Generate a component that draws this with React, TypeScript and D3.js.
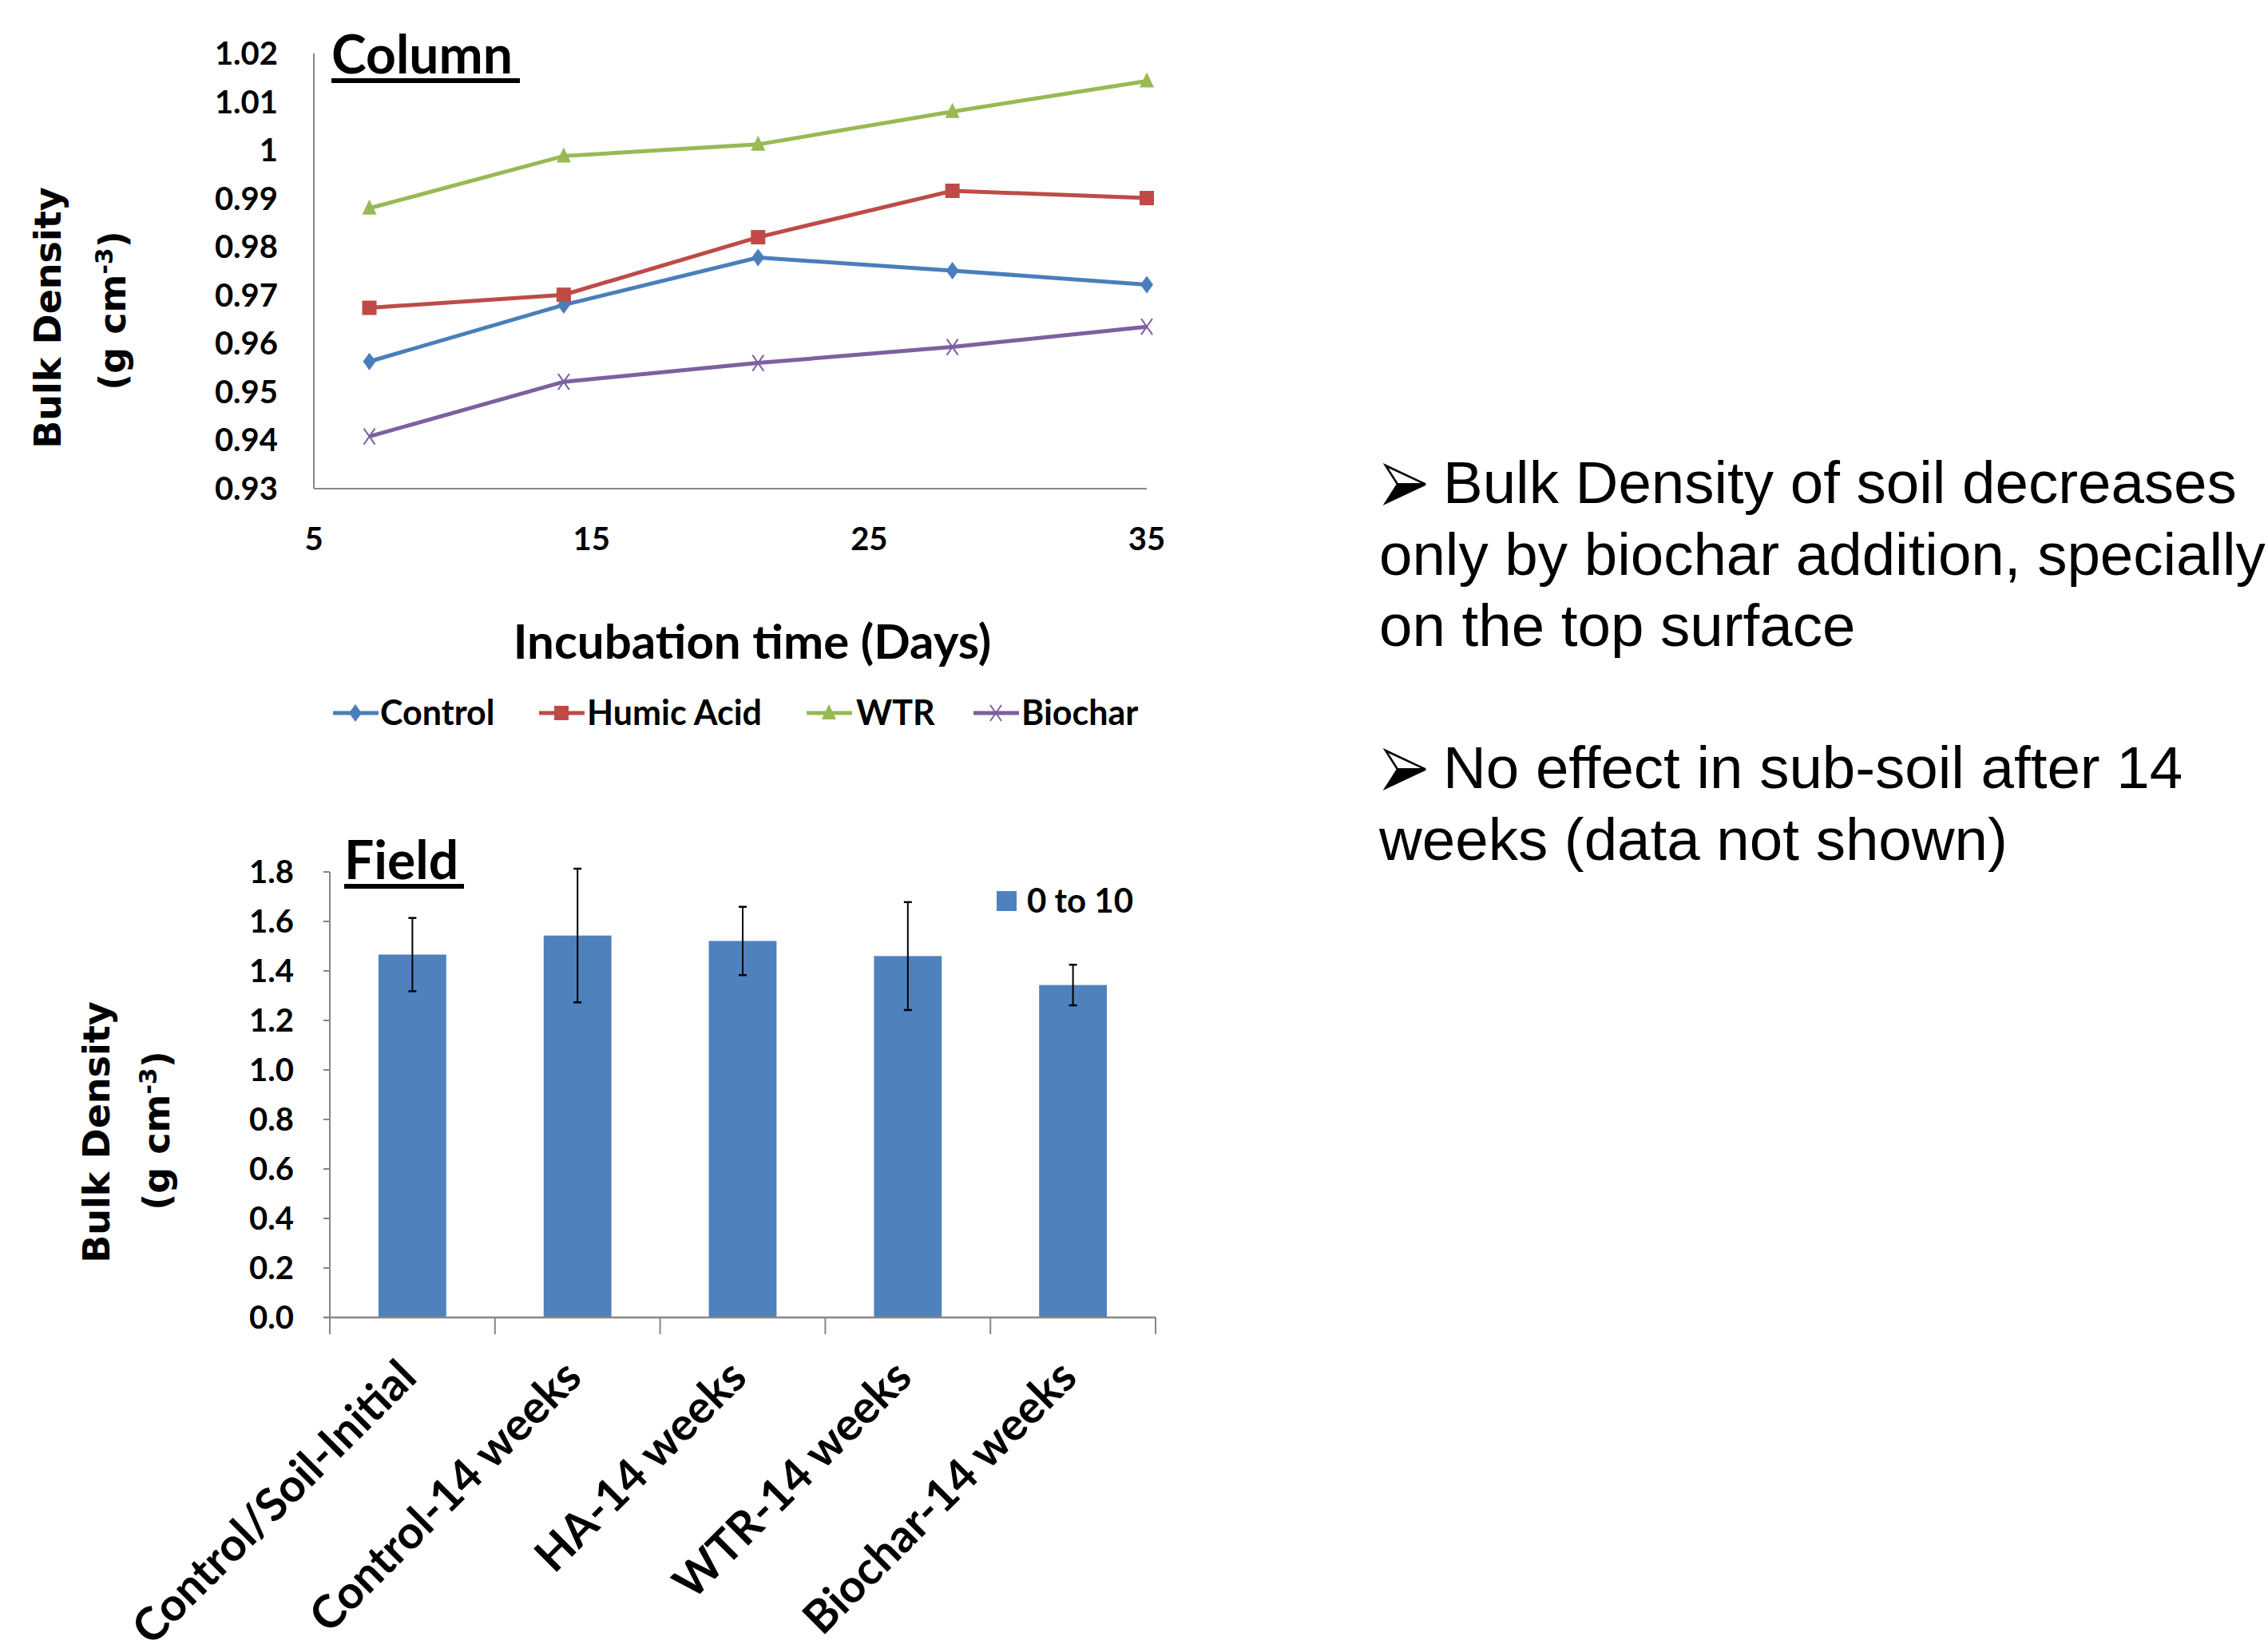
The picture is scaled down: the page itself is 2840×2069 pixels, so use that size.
import React from "react";
import * as d3 from "d3";

const days = [7, 14, 21, 28, 35];
const controlVals = [0.9563, 0.968, 0.9778, 0.9751, 0.9722];
const humicVals = [0.9674, 0.9701, 0.982, 0.9916, 0.9901];
const wtrVals = [0.988, 0.9988, 1.0012, 1.008, 1.0143];
const biocharVals = [0.9408, 0.9521, 0.956, 0.9593, 0.9635];
const topYTicks = [0.93, 0.94, 0.95, 0.96, 0.97, 0.98, 0.99, 1, 1.01, 1.02];
const topXTicks = [5, 15, 25, 35];

const fieldCats = ["Control/Soil-Initial", "Control-14 weeks", "HA-14 weeks", "WTR-14 weeks", "Biochar-14 weeks"];
const fieldVals = [1.466, 1.543, 1.521, 1.46, 1.343];
const fieldErr = [0.148, 0.27, 0.138, 0.218, 0.082];
const botYTicks = [0, 0.2, 0.4, 0.6, 0.8, 1.0, 1.2, 1.4, 1.6, 1.8];

const bulletLines1 = ["Bulk Density of soil decreases", "only by biochar addition, specially", "on the top surface"];
const bulletLines2 = ["No effect in sub-soil after 14", "weeks (data not shown)"];

const series = [
  { name: "Control", values: controlVals, color: "#4A7EBB", marker: "diamond" },
  { name: "Humic Acid", values: humicVals, color: "#BE4B48", marker: "square" },
  { name: "WTR", values: wtrVals, color: "#98B954", marker: "triangle" },
  { name: "Biochar", values: biocharVals, color: "#7D60A0", marker: "x" },
];

const LAB = "Lato, 'Open Sans', sans-serif";
const AX = "#868686";

function Marker({ type, x, y, color }: { type: string; x: number; y: number; color: string }) {
  if (type === "diamond") {
    return <path d={`M${x},${y - 11}L${x + 8},${y}L${x},${y + 11}L${x - 8},${y}Z`} fill={color} />;
  }
  if (type === "square") {
    return <rect x={x - 9} y={y - 9} width={18} height={18} fill={color} />;
  }
  if (type === "triangle") {
    return <path d={`M${x},${y - 11}L${x + 9},${y + 8}L${x - 9},${y + 8}Z`} fill={color} />;
  }
  return (
    <g stroke={color} strokeWidth={2}>
      <line x1={x - 7} y1={y - 10} x2={x + 7} y2={y + 10} />
      <line x1={x + 7} y1={y - 10} x2={x - 7} y2={y + 10} />
    </g>
  );
}

function Arrow({ x, y }: { x: number; y: number }) {
  // 3D arrowhead bullet (Wingdings-style), x,y = top-left
  const W = 50;
  const H = 47;
  return (
    <g>
      <path d={`M${x},${y}L${x + W},${y + H * 0.5}L${x + W * 0.3},${y + H * 0.5}Z`} fill="#fff" stroke="#000" strokeWidth={2.5} strokeLinejoin="miter" />
      <path d={`M${x + W * 0.3},${y + H * 0.5}L${x + W},${y + H * 0.5}L${x},${y + H}Z`} fill="#000" stroke="#000" strokeWidth={2.5} />
    </g>
  );
}

export default function App() {
  const xTop = d3.scaleLinear().domain([5, 35]).range([393, 1436]);
  const yTop = d3.scaleLinear().domain([0.93, 1.02]).range([612, 67]);
  const line = d3
    .line<number>()
    .x((_, i) => xTop(days[i]))
    .y((d) => yTop(d));

  const xBand = d3.scaleBand<string>().domain(fieldCats).range([413, 1447]).paddingInner(0).paddingOuter(0);
  const yBot = d3.scaleLinear().domain([0, 1.8]).range([1650, 1092]);
  const barW = xBand.bandwidth() * 0.41;

  const legendItems = [
    { x0: 417, tx: 476 },
    { x0: 675, tx: 735 },
    { x0: 1010, tx: 1072 },
    { x0: 1219, tx: 1279 },
  ];

  return (
    <svg width={2840} height={2069} style={{ display: "block", background: "#fff" }}>
      <style>{`body{margin:0}`}</style>
      <rect x={0} y={0} width={2840} height={2069} fill="#fff" />

      {/* ---------- Top chart: Column ---------- */}
      <line x1={393} y1={yTop(1.02)} x2={393} y2={612} stroke={AX} strokeWidth={2} />
      <line x1={393} y1={612} x2={1436} y2={612} stroke={AX} strokeWidth={2} />
      {topYTicks.map((t) => (
        <text key={t} x={348} y={yTop(t)} dy="0.35em" textAnchor="end" fontFamily={LAB} fontWeight={700} fontSize={40}>
          {d3.format("")(+t.toFixed(2))}
        </text>
      ))}
      {topXTicks.map((t) => (
        <text key={t} x={xTop(t)} y={675} dy="0.35em" textAnchor="middle" fontFamily={LAB} fontWeight={700} fontSize={40}>
          {t}
        </text>
      ))}
      {series.map((s) => (
        <g key={s.name}>
          <path d={line(s.values) || ""} fill="none" stroke={s.color} strokeWidth={5} />
          {s.values.map((v, i) => (
            <Marker key={i} type={s.marker} x={xTop(days[i])} y={yTop(v)} color={s.color} />
          ))}
        </g>
      ))}
      <text x={415} y={92} fontFamily={LAB} fontWeight={700} fontSize={66}>Column</text>
      <line x1={415} y1={101} x2={651} y2={101} stroke="#000" strokeWidth={6} />

      <text x={942} y={804} dy="0.35em" textAnchor="middle" fontFamily={LAB} fontWeight={700} fontSize={60}>
        Incubation time (Days)
      </text>

      <g transform="translate(60,398) rotate(-90)">
        <text x={0} y={0} dy="0.35em" textAnchor="middle" fontFamily="'DejaVu Sans', sans-serif" fontWeight={700} fontSize={46}>
          Bulk Density
        </text>
      </g>
      <g transform="translate(141,389) rotate(-90)">
        <text x={0} y={0} dy="0.35em" textAnchor="middle" fontFamily="'DejaVu Sans', sans-serif" fontWeight={700} fontSize={46}>
          (g cm<tspan dy="-16" fontSize={30}>-3</tspan><tspan dy="16">)</tspan>
        </text>
      </g>

      {series.map((s, i) => (
        <g key={s.name}>
          <line x1={legendItems[i].x0} y1={893} x2={legendItems[i].x0 + 57} y2={893} stroke={s.color} strokeWidth={5} />
          <Marker type={s.marker} x={legendItems[i].x0 + 28} y={893} color={s.color} />
          <text x={legendItems[i].tx} y={893} dy="0.35em" fontFamily={LAB} fontWeight={700} fontSize={43}>
            {s.name}
          </text>
        </g>
      ))}

      {/* ---------- Bottom chart: Field ---------- */}
      {fieldCats.map((c, i) => {
        const cx = (xBand(c) || 0) + xBand.bandwidth() / 2;
        return (
          <g key={c}>
            <rect x={cx - barW / 2} y={yBot(fieldVals[i])} width={barW} height={1650 - yBot(fieldVals[i])} fill="#4F81BD" />
            <line x1={cx} y1={yBot(fieldVals[i] + fieldErr[i])} x2={cx} y2={yBot(fieldVals[i] - fieldErr[i])} stroke="#000" strokeWidth={2} />
            <line x1={cx - 5} y1={yBot(fieldVals[i] + fieldErr[i])} x2={cx + 5} y2={yBot(fieldVals[i] + fieldErr[i])} stroke="#000" strokeWidth={2.5} />
            <line x1={cx - 5} y1={yBot(fieldVals[i] - fieldErr[i])} x2={cx + 5} y2={yBot(fieldVals[i] - fieldErr[i])} stroke="#000" strokeWidth={2.5} />
          </g>
        );
      })}
      <line x1={413} y1={1092} x2={413} y2={1650} stroke={AX} strokeWidth={2} />
      {botYTicks.map((t) => (
        <g key={t}>
          <line x1={405} y1={yBot(t)} x2={413} y2={yBot(t)} stroke={AX} strokeWidth={2} />
          <text x={368} y={yBot(t)} dy="0.35em" textAnchor="end" fontFamily={LAB} fontWeight={700} fontSize={40}>
            {d3.format(".1f")(t)}
          </text>
        </g>
      ))}
      <line x1={405} y1={1650} x2={1447} y2={1650} stroke={AX} strokeWidth={2.5} />
      {[...fieldCats.map((c) => xBand(c) || 0), 1447].map((x, i) => (
        <line key={i} x1={x} y1={1650} x2={x} y2={1671} stroke={AX} strokeWidth={2} />
      ))}
      {fieldCats.map((c) => {
        const cx = (xBand(c) || 0) + xBand.bandwidth() / 2;
        return (
          <text
            key={c}
            transform={`translate(${cx + 8},${1728}) rotate(-45)`}
            textAnchor="end"
            fontFamily={LAB}
            fontWeight={700}
            fontSize={57}
          >
            {c}
          </text>
        );
      })}

      <text x={431} y={1101} fontFamily={LAB} fontWeight={700} fontSize={66}>Field</text>
      <line x1={431} y1={1110} x2={581} y2={1110} stroke="#000" strokeWidth={6} />

      <rect x={1248} y={1116} width={25} height={25} fill="#4F81BD" />
      <text x={1286} y={1128} dy="0.35em" fontFamily={LAB} fontWeight={700} fontSize={42}>0 to 10</text>

      <g transform="translate(121,1418) rotate(-90)">
        <text x={0} y={0} dy="0.35em" textAnchor="middle" fontFamily="'DejaVu Sans', sans-serif" fontWeight={700} fontSize={46}>
          Bulk Density
        </text>
      </g>
      <g transform="translate(196,1416) rotate(-90)">
        <text x={0} y={0} dy="0.35em" textAnchor="middle" fontFamily="'DejaVu Sans', sans-serif" fontWeight={700} fontSize={46}>
          (g cm<tspan dy="-16" fontSize={30}>-3</tspan><tspan dy="16">)</tspan>
        </text>
      </g>

      {/* ---------- Right-hand bullet text ---------- */}
      <g fontFamily="'Liberation Sans', Arial, sans-serif" fontSize={74.5} fill="#000">
        {bulletLines1.map((l, i) => (
          <text key={l} x={i === 0 ? 1807 : 1727} y={630 + i * 89.5}>{l}</text>
        ))}
        {bulletLines2.map((l, i) => (
          <text key={l} x={i === 0 ? 1807 : 1727} y={987 + i * 89.5}>{l}</text>
        ))}
      </g>
      <Arrow x={1735} y={583} />
      <Arrow x={1735} y={940} />
    </svg>
  );
}
